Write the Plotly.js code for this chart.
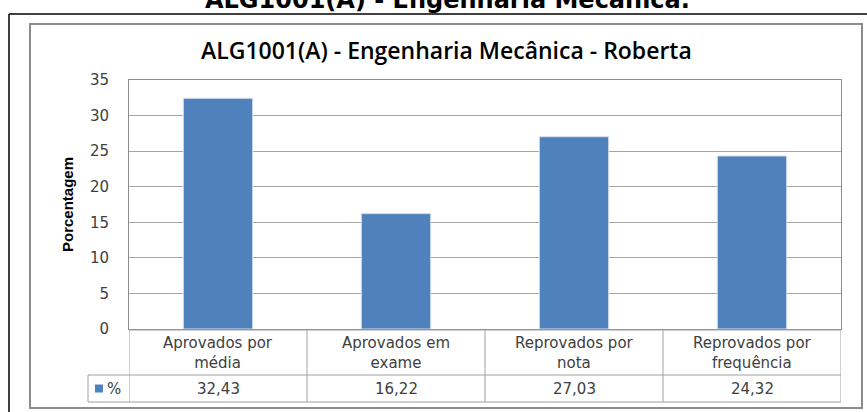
<!DOCTYPE html>
<html>
<head>
<meta charset="utf-8">
<script src="https://cdn.plot.ly/plotly-3.0.1.min.js"></script>
<style>
html,body{margin:0;padding:0;background:#fff;}
#chart{width:867px;height:412px;}
</style>
</head>
<body>
<div id="chart"></div>
<script>
// ---- data ----
const pageTitle = 'ALG1001(A) - Engenharia Mecânica.';
const chartTitle = 'ALG1001(A) - Engenharia Mecânica - Roberta';
const yAxisTitle = 'Porcentagem';
const seriesName = '%';
const categories = ['Aprovados por média', 'Aprovados em exame', 'Reprovados por nota', 'Reprovados por frequência'];
const values = [32.43, 16.22, 27.03, 24.32];
const yTicks = [0, 5, 10, 15, 20, 25, 30, 35];

// ---- geometry (pixels) ----
const W = 867, H = 412;
const PL = 129, PR = 841, PT = 80, PB = 329;
const px = x => (x - PL) / (PR - PL);
const py = y => (PB - y) / (PB - PT);

const barColor = '#4F81BD';
const gridColor = '#a6a6a6';
const tableColor = '#a0a0a0';
const textColor = '#404040';
const tFont = {family: 'DejaVu Sans, Verdana, sans-serif', size: 15, color: textColor};

const tableLabels = categories.map(c => {
  const i = c.lastIndexOf(' ');
  return c.slice(0, i) + '<br>' + c.slice(i + 1);
});
const fmt = v => v.toFixed(2).replace('.', ',');

const shapes = [];
const annotations = [];

// outer frames
shapes.push({type:'line', xref:'paper', yref:'paper', x0:px(9), x1:px(867), y0:py(14), y1:py(14), line:{color:'#000', width:1.5}});
shapes.push({type:'line', xref:'paper', yref:'paper', x0:px(9), x1:px(9), y0:py(14), y1:py(412), line:{color:'#000', width:1.5}});
shapes.push({type:'rect', xref:'paper', yref:'paper', x0:px(30), x1:px(862), y0:py(24), y1:py(408), line:{color:'#8c8c8c', width:2}});

// data table
const r0 = 330, r1 = 375, r2 = 402;
shapes.push({type:'line', xref:'paper', yref:'paper', x0:px(PL), x1:px(PR), y0:py(r0), y1:py(r0), line:{color:tableColor, width:1}});
shapes.push({type:'line', xref:'paper', yref:'paper', x0:px(88), x1:px(PR), y0:py(r1), y1:py(r1), line:{color:tableColor, width:1}});
shapes.push({type:'line', xref:'paper', yref:'paper', x0:px(88), x1:px(PR), y0:py(r2), y1:py(r2), line:{color:tableColor, width:1}});
shapes.push({type:'line', xref:'paper', yref:'paper', x0:px(88), x1:px(88), y0:py(r1), y1:py(r2), line:{color:tableColor, width:1}});
for (let i = 0; i <= categories.length; i++) {
  shapes.push({type:'line', xref:'x', yref:'paper', x0:i - 0.5, x1:i - 0.5, y0:py(r0), y1:py(r2), line:{color:tableColor, width:1}});
}
categories.forEach((c, i) => {
  annotations.push({xref:'x', yref:'paper', x:i, y:py((r0 + r1) / 2), text:tableLabels[i], showarrow:false, font:tFont, align:'center', yanchor:'middle'});
  annotations.push({xref:'x', yref:'paper', x:i, y:py((r1 + r2) / 2), text:fmt(values[i]), showarrow:false, font:tFont, yanchor:'middle'});
});
// legend key
shapes.push({type:'rect', xref:'paper', yref:'paper', x0:px(95), x1:px(103), y0:py(384.5), y1:py(392.5), fillcolor:barColor, line:{width:0}});
annotations.push({xref:'paper', yref:'paper', x:px(105), y:py(388.5), xanchor:'left', yanchor:'middle', text:seriesName, showarrow:false, font:tFont});

// titles
annotations.push({xref:'paper', yref:'paper', x:px(447), y:py(16), xanchor:'center', yanchor:'bottom', text:'<b>' + pageTitle + '</b>', showarrow:false, font:{family:'DejaVu Sans, Verdana, sans-serif', size:24, color:'#000'}});
annotations.push({xref:'paper', yref:'paper', x:px(446), y:py(50), xanchor:'center', yanchor:'middle', text:chartTitle, showarrow:false, font:{family:'Open Sans, sans-serif', size:23, weight:600, color:'#000'}});
annotations.push({xref:'paper', yref:'paper', x:px(67), y:py(205), xanchor:'center', yanchor:'middle', textangle:-90, text:'<b>' + yAxisTitle + '</b>', showarrow:false, font:{family:'Liberation Sans Narrow, Arial Narrow, sans-serif', size:15, color:'#000'}});

const trace = {
  type:'bar', x:categories.map((c, i) => i), y:values, name:seriesName,
  width:0.39,
  marker:{color:barColor, line:{color:'#d9e1ea', width:1}},
  hoverinfo:'skip'
};

const layout = {
  width:W, height:H,
  margin:{l:PL, r:W - PR, t:PT, b:H - PB, pad:0},
  paper_bgcolor:'#fff', plot_bgcolor:'#fff',
  showlegend:false,
  xaxis:{range:[-0.5, categories.length - 0.5], showticklabels:false, showgrid:false, zeroline:false,
         showline:true, mirror:true, linecolor:'#8c8c8c', linewidth:1, fixedrange:true},
  yaxis:{range:[0, 35], tickvals:yTicks, ticktext:yTicks.map(String), showgrid:true, gridcolor:gridColor, gridwidth:1,
         zeroline:false, showline:true, mirror:true, linecolor:'#8c8c8c', linewidth:1,
         ticks:'', ticklabelstandoff:16, tickfont:{family:'DejaVu Sans, Verdana, sans-serif', size:15, color:textColor}, fixedrange:true},
  shapes:shapes,
  annotations:annotations
};

Plotly.newPlot('chart', [trace], layout, {displayModeBar:false, staticPlot:true});
</script>
</body>
</html>
